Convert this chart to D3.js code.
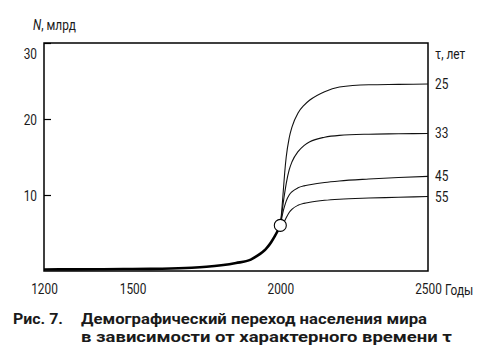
<!DOCTYPE html>
<html><head><meta charset="utf-8">
<script src="https://cdn.jsdelivr.net/npm/d3@7/dist/d3.min.js"></script>
<style>
body{margin:0;background:#fff;}
svg text{font-family:Roboto,"Noto Sans",sans-serif;fill:#1a1a1a;}
</style></head>
<body><svg id="c" width="484" height="364"></svg>
<script>
// Historical population (billions)
const histYears = [1200,1300,1400,1500,1600,1700,1750,1800,1850,1900,1920,1940,1950,1960,1970,1980,1990,2000];
const histValues = [0.2,0.22,0.24,0.27,0.3,0.42,0.55,0.75,1.05,1.5,1.95,2.5,2.85,3.3,3.85,4.5,5.2,6.0];
// Projections for characteristic time tau
const futYears = [2000,2005,2010,2015,2020,2030,2040,2060,2080,2100,2150,2200,2300,2400,2500];
const tau25 = [6,8.0,10.5,13.0,15.0,17.5,19.0,20.8,21.8,22.5,23.6,24.2,24.5,24.55,24.6];
const tau33 = [6,7.5,9.0,10.3,11.5,13.3,14.4,15.7,16.5,17.0,17.6,17.85,18.0,18.05,18.1];
const tau45 = [6,7.0,7.9,8.6,9.2,10.0,10.45,10.95,11.2,11.35,11.65,11.85,12.1,12.3,12.45];
const tau55 = [6,6.1,6.3,6.6,7.0,7.7,8.15,8.65,8.9,9.05,9.3,9.45,9.6,9.7,9.8];
const tauLabels = ["25","33","45","55"];
const yTicks = [10,20,30];
const xTicks = [1200,1500,2000,2500];

const SX = 0.82; // horizontal condensing of label font
const svg = d3.select("#c");
const x = d3.scaleLinear().domain([1200,2500]).range([44,428]);
const y = d3.scaleLinear().domain([0,30]).range([271,43]);

function label(px, py, txt, size){
  return svg.append("text").attr("transform",`translate(${px},${py}) scale(${SX},1)`)
    .style("font-size",(size||14.5)+"px").text(txt);
}

// frame
svg.append("rect").attr("x",44).attr("y",43).attr("width",384).attr("height",228)
  .attr("fill","none").attr("stroke","#000").attr("stroke-width",1.5);

// y axis (inward ticks)
const ya = svg.append("g").attr("transform","translate(44,0)")
  .call(d3.axisRight(y).tickValues(yTicks).tickSize(7).tickFormat(""));
ya.select(".domain").remove();
ya.selectAll("line").attr("stroke","#000").attr("stroke-width",1.2);
const yl = svg.append("g").attr("transform","translate(37,0)")
  .call(d3.axisLeft(y).tickValues(yTicks).tickSize(0).tickPadding(0));
yl.select(".domain").remove();
yl.selectAll("text").style("font-size","14.5px").attr("x",0)
  .attr("transform",`scale(${SX},1)`)
  .attr("dy", d => d===30 ? "1.05em" : "0.35em");

// x axis labels
const xa = svg.append("g").attr("transform","translate(0,284)")
  .call(d3.axisBottom(x).tickValues(xTicks).tickSize(0).tickPadding(0).tickFormat(d3.format("d")));
xa.select(".domain").remove();
xa.selectAll("text").style("font-size","14.5px").attr("y",0).attr("dy","0.72em")
  .attr("transform",`scale(${SX},1)`);
label(x(2500)+17, 295, "Годы");

// axis titles
const t = label(33, 30, "");
t.append("tspan").style("font-style","italic").text("N");
t.append("tspan").text(", млрд");
label(435, 59, "τ, лет");

const line = d3.line().x(d=>x(d[0])).y(d=>y(d[1])).curve(d3.curveMonotoneX);

// projections
const series = [tau25,tau33,tau45,tau55];
series.forEach((s,i)=>{
  svg.append("path").datum(futYears.map((yr,j)=>[yr,s[j]]))
    .attr("d",line).attr("fill","none").attr("stroke","#111").attr("stroke-width",1.1);
  label(435, y(s[s.length-1])+5, tauLabels[i]);
});

// history
svg.append("path").datum(histYears.map((yr,j)=>[yr,histValues[j]]))
  .attr("d",line).attr("fill","none").attr("stroke","#000").attr("stroke-width",2.6);

// present point
svg.append("circle").attr("cx",x(2000)).attr("cy",y(6)).attr("r",6)
  .attr("fill","#fff").attr("stroke","#000").attr("stroke-width",1.1);

// caption
const cap = svg.append("g").style("font-weight","bold").style("font-size","14px");
cap.append("text").attr("x",13).attr("y",324).attr("textLength",50).attr("lengthAdjust","spacingAndGlyphs").text("Рис. 7.");
cap.append("text").attr("x",81).attr("y",324).attr("textLength",346).attr("lengthAdjust","spacingAndGlyphs").text("Демографический переход населения мира");
cap.append("text").attr("x",81).attr("y",342).attr("textLength",371).attr("lengthAdjust","spacingAndGlyphs").text("в зависимости от характерного времени τ");
</script></body></html>
